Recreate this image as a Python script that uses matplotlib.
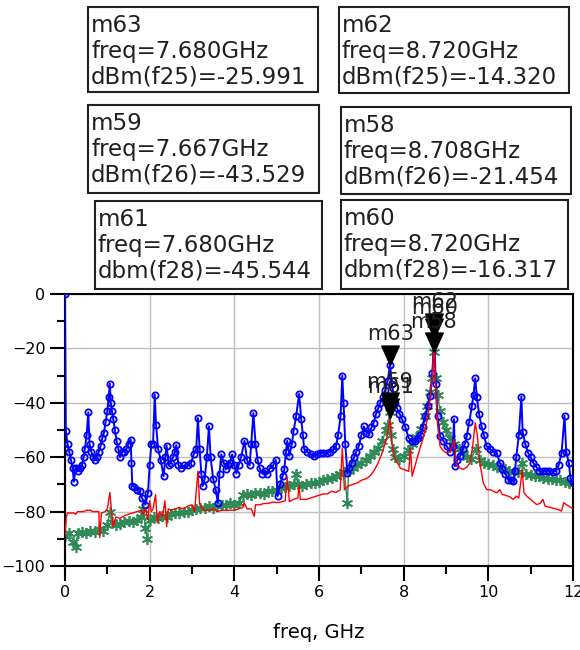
import matplotlib
matplotlib.use("Agg")
import matplotlib.pyplot as plt
from matplotlib.patches import Rectangle
from matplotlib.path import Path
from matplotlib.ticker import MultipleLocator

# dBm(f25) - blue, open circles
blue_freq = [0.00, 0.02, 0.06, 0.10, 0.14, 0.18, 0.21, 0.25, 0.30, 0.35, 0.40, 0.44, 0.47, 0.51, 0.55,
             0.58, 0.62, 0.67, 0.72, 0.76, 0.80, 0.84, 0.88, 0.92, 0.96, 1.00, 1.03, 1.06, 1.08, 1.11,
             1.14, 1.18, 1.22, 1.26, 1.30, 1.35, 1.40, 1.45, 1.50, 1.55, 1.57, 1.59, 1.64, 1.70, 1.76,
             1.82, 1.90, 1.96, 2.00, 2.04, 2.08, 2.12, 2.15, 2.20, 2.26, 2.33, 2.37, 2.40, 2.45, 2.50,
             2.55, 2.60, 2.63, 2.68, 2.75, 2.82, 2.90, 2.98, 3.04, 3.10, 3.14, 3.18, 3.22, 3.25, 3.30,
             3.35, 3.40, 3.44, 3.50, 3.56, 3.61, 3.65, 3.69, 3.75, 3.80, 3.85, 3.90, 3.95, 4.00, 4.05,
             4.10, 4.16, 4.24, 4.30, 4.36, 4.40, 4.45, 4.50, 4.55, 4.60, 4.66, 4.72, 4.78, 4.84, 4.92,
             4.98, 5.02, 5.08, 5.14, 5.18, 5.22, 5.25, 5.30, 5.36, 5.40, 5.46, 5.53, 5.58, 5.62, 5.65,
             5.72, 5.80, 5.88, 5.95, 6.02, 6.10, 6.18, 6.26, 6.34, 6.40, 6.45, 6.51, 6.55, 6.58, 6.62,
             6.67, 6.72, 6.77, 6.83, 6.88, 6.94, 7.00, 7.06, 7.12, 7.18, 7.24, 7.29, 7.35, 7.40, 7.45,
             7.51, 7.57, 7.62, 7.68, 7.72, 7.76, 7.80, 7.84, 7.90, 7.96, 8.04, 8.12, 8.20, 8.27, 8.33,
             8.39, 8.45, 8.51, 8.57, 8.63, 8.68, 8.72, 8.76, 8.80, 8.86, 8.94, 9.02, 9.10, 9.16, 9.19,
             9.21, 9.27, 9.33, 9.40, 9.45, 9.49, 9.55, 9.61, 9.65, 9.69, 9.73, 9.78, 9.84, 9.90, 9.96,
             10.04, 10.12, 10.20, 10.27, 10.33, 10.40, 10.47, 10.53, 10.59, 10.63, 10.66, 10.72, 10.78,
             10.81, 10.87, 10.94, 11.00, 11.06, 11.13, 11.20, 11.28, 11.36, 11.44, 11.52, 11.60, 11.66,
             11.73, 11.80, 11.84, 11.90, 11.94, 12.00]
blue_dbm = [0.0, -50.5, -55, -58, -61, -64, -69, -64, -65, -64, -63, -60, -57, -52, -43.5,
            -55, -58, -60, -61, -60, -58, -56, -53, -51, -47, -43, -38, -33, -40, -43,
            -46, -50, -54, -57, -60, -58, -58, -57, -55, -53.5, -62, -70.5, -71, -72, -72.5,
            -75, -77.4, -73, -63, -55, -55, -37, -48, -57, -61, -67, -60, -55.7, -63, -62,
            -60, -58, -55.5, -63, -64, -63, -63, -62, -59, -57, -45.6, -57, -66, -70.6, -68,
            -60, -48.6, -60, -68, -72, -76.7, -66, -59, -62, -64.5, -63, -62, -59, -63, -66,
            -63, -60, -54, -61, -63, -55, -43.8, -55, -61, -64, -66, -65, -66, -64, -63,
            -61, -74.3, -70, -67, -64.5, -58, -54, -59.5, -55, -50.3, -45, -36.7, -46, -52, -57,
            -58, -59, -59.5, -59, -58.5, -58.4, -58.5, -58, -57, -56, -52, -45, -30, -40, -55,
            -65.8, -64, -62, -60, -58, -56, -52, -48.7, -51, -51.4, -49, -47.4, -44, -42, -40,
            -38, -35.2, -32, -25.991, -33, -37, -40, -42, -44, -46, -49, -53, -54, -54, -53,
            -52, -49, -45, -41, -37.6, -29, -14.32, -33, -45, -52.3, -54, -56, -58, -56, -46,
            -63.3, -61, -59.7, -57, -55, -52.3, -47, -41.3, -37, -31, -38, -44, -48.7, -52, -56,
            -57, -58, -58.4, -62, -64.5, -66, -68.2, -68.5, -68.8, -65, -60, -52, -37.7,
            -50.6, -55, -58.4, -60, -62, -63.5, -65, -65, -65.2, -65, -65.3, -65, -63,
            -58.4, -44.8, -58, -62, -67.6, -69]

# dBm(f26) - green, asterisks
green_freq = [0.0, 0.1, 0.2, 0.25, 0.3, 0.4, 0.5, 0.6, 0.7, 0.8, 0.9, 1.0, 1.06, 1.1, 1.2, 1.3, 1.4,
              1.5, 1.6, 1.7, 1.8, 1.85, 1.9, 1.94, 2.0, 2.1, 2.2, 2.3, 2.4, 2.5, 2.6, 2.7, 2.8, 2.9,
              3.0, 3.1, 3.2, 3.3, 3.4, 3.5, 3.6, 3.7, 3.8, 3.9, 4.0, 4.1, 4.2, 4.3, 4.4, 4.5, 4.6,
              4.7, 4.8, 4.9, 5.0, 5.1, 5.2, 5.3, 5.4, 5.45, 5.5, 5.6, 5.7, 5.8, 5.9, 6.0, 6.1, 6.2,
              6.3, 6.4, 6.5, 6.6, 6.67, 6.7, 6.8, 6.9, 7.0, 7.1, 7.2, 7.3, 7.4, 7.5, 7.58, 7.62,
              7.667, 7.7, 7.75, 7.8, 7.9, 8.0, 8.1, 8.2, 8.3, 8.4, 8.5, 8.56, 8.62, 8.66, 8.708,
              8.76, 8.8, 8.86, 8.93, 9.0, 9.1, 9.2, 9.3, 9.4, 9.5, 9.6, 9.7, 9.8, 9.9, 10.0, 10.1,
              10.2, 10.3, 10.4, 10.5, 10.6, 10.7, 10.8, 10.9, 11.0, 11.1, 11.2, 11.3, 11.4, 11.5,
              11.6, 11.7, 11.8, 11.9, 12.0]
green_dbm = [-89, -88, -91, -93, -88, -87.5, -88, -87, -87.5, -86.5, -87, -85, -80, -84, -85, -84.5,
             -84, -83.5, -84, -83, -82, -79, -86, -90, -83, -82, -82.5, -81.5, -82, -81, -80.5,
             -80.5, -80, -80, -79.5, -79, -78.5, -78.5, -78, -78.5, -78, -77.5, -77.5, -77, -77.5,
             -77, -74, -73.5, -74, -73, -73, -73.5, -72.5, -72.5, -72, -71.5, -71, -70.5, -70,
             -66, -70, -70.5, -70, -69.5, -69.5, -69, -68.5, -68, -67.5, -67, -66, -65.5, -77,
             -65, -64, -63, -62, -61, -59.5, -58, -56.5, -54, -50, -48, -43.529, -52, -57, -60,
             -60.5, -59.5, -57.5, -55, -52.5, -49.5, -45, -41, -36, -31, -21.454, -31, -37, -43,
             -47, -50, -53, -55, -57, -58.5, -60, -60.5, -57, -61, -62, -62.5, -63, -63.5, -64,
             -64.5, -65, -65.5, -65.5, -62, -66, -66.5, -67, -67, -67.5, -68, -68, -68.5, -68.5,
             -69, -69.5, -70]

# dbm(f28) - red line
red_freq = [0.0, 0.03, 0.06, 0.2, 0.25, 0.3, 0.45, 0.5, 0.6, 0.65, 0.75, 0.8, 0.82, 0.86, 0.95, 1.0,
            1.06, 1.1, 1.14, 1.2, 1.3, 1.4, 1.5, 1.6, 1.7, 1.8, 1.85, 1.9, 1.96, 2.0, 2.04, 2.08,
            2.14, 2.18, 2.24, 2.3, 2.36, 2.4, 2.44, 2.5, 2.6, 2.7, 2.8, 2.9, 3.0, 3.06, 3.14, 3.18,
            3.24, 3.3, 3.4, 3.5, 3.6, 3.7, 3.8, 3.9, 4.0, 4.1, 4.2, 4.23, 4.3, 4.4, 4.47, 4.5, 4.6,
            4.7, 4.8, 4.9, 5.0, 5.1, 5.2, 5.25, 5.3, 5.4, 5.5, 5.53, 5.56, 5.7, 5.8, 5.9, 6.0, 6.1,
            6.2, 6.3, 6.4, 6.5, 6.55, 6.6, 6.7, 6.8, 6.9, 7.0, 7.1, 7.2, 7.3, 7.4, 7.5, 7.6, 7.68,
            7.72, 7.78, 7.85, 7.92, 8.0, 8.08, 8.12, 8.16, 8.2, 8.27, 8.33, 8.4, 8.46, 8.51, 8.57,
            8.63, 8.68, 8.72, 8.76, 8.8, 8.86, 8.93, 9.0, 9.1, 9.19, 9.25, 9.33, 9.41, 9.5, 9.57,
            9.63, 9.69, 9.74, 9.8, 9.88, 9.96, 10.05, 10.12, 10.2, 10.27, 10.33, 10.4, 10.5, 10.59,
            10.66, 10.72, 10.8, 10.84, 10.92, 11.0, 11.07, 11.14, 11.22, 11.29, 11.34, 11.42, 11.5,
            11.6, 11.66, 11.73, 11.78, 11.84, 11.9, 11.96, 12.0]
red_dbm = [-89, -82, -80.5, -80.5, -81, -80, -80, -79.5, -79.5, -80, -80, -80, -89.5, -80.5, -80,
           -79, -73, -80, -85.5, -82, -82.5, -81.5, -81, -80.5, -80, -79.5, -81, -79, -83, -76,
           -80, -79, -73.7, -84, -80, -82, -76, -85.5, -79, -79.5, -79, -78.5, -79, -78, -77.5,
           -80, -65.2, -77, -79, -79.5, -79.5, -79, -80, -79.5, -79.5, -79.5, -79.5, -79, -78.5,
           -76.7, -79, -79, -81.7, -77.5, -77.5, -77, -77, -76.5, -76.7, -76.5, -76, -67.6, -76.3,
           -75.5, -75, -70.5, -75.5, -75.5, -75, -74.5, -74, -73.5, -73.5, -72.5, -73, -72, -56.6,
           -72, -70.5, -70, -69.5, -68.5, -68, -67, -65, -62, -58, -53, -45.544, -55, -60, -62,
           -64, -64.5, -65, -65.2, -56.6, -67, -63, -59.7, -56, -53, -50, -45, -37.6, -30, -16.317,
           -36, -48, -56, -57.5, -58.4, -58, -53.5, -63.3, -64, -64.5, -63.5, -62, -56, -47.4,
           -52, -62, -69.4, -71.9, -72, -72.5, -73.1, -71.9, -73.7, -74, -74.5, -75.5, -74.3,
           -75, -64.5, -73, -74.5, -75.5, -76.5, -77.4, -77, -75.5, -78, -78.3, -78.6, -79,
           -79.3, -79.8, -76.7, -77.4, -78, -78.6, -79]

# markers on the traces
marker_names = ["m63", "m62", "m59", "m58", "m61", "m60"]
marker_freq = [7.680, 8.720, 7.667, 8.708, 7.680, 8.720]
marker_dbm = [-25.991, -14.320, -43.529, -21.454, -45.544, -16.317]
marker_expr = ["dBm(f25)", "dBm(f25)", "dBm(f26)", "dBm(f26)", "dbm(f28)", "dbm(f28)"]

# readout boxes, in pixels from top-left: x0, y0, x1, y1
box_px = [(88, 7, 318, 92), (339, 7, 569, 93), (88, 105, 319, 193),
          (341, 107, 571, 194), (95, 201, 322, 289), (341, 200, 568, 289)]

W, H = 580, 650
fig = plt.figure(figsize=(W / 100, H / 100), dpi=100)
ax = fig.add_axes([65 / W, 1 - 566 / H, 508 / W, 272 / H])

ax.plot(green_freq, green_dbm, color="#2e8b57", lw=1.0, marker=(6, 2, 0), ms=8,
        mew=1.2, zorder=2)
ax.plot(blue_freq, blue_dbm, color="#0000ff", lw=1.4, marker="o", ms=4.5,
        mfc="none", mew=1.3, zorder=3)
ax.plot(red_freq, red_dbm, color="#ff0000", lw=1.0, zorder=4)

# downward triangle with the tip at the data point
tri = Path([(-0.45, 1.0), (0.45, 1.0), (0.0, 0.0), (-0.45, 1.0)],
           [Path.MOVETO, Path.LINETO, Path.LINETO, Path.CLOSEPOLY])
for name, f, d in zip(marker_names, marker_freq, marker_dbm):
    ax.plot([f], [d], marker=tri, ms=28, color="black", ls="none", zorder=6, clip_on=False)
    ax.annotate(name, (f, d), xytext=(0, 15), textcoords="offset points",
                ha="center", va="bottom", fontsize=15, color="#202020",
                zorder=7, annotation_clip=False)

ax.set_xlim(0, 12)
ax.set_ylim(-100, 0)
ax.xaxis.set_major_locator(MultipleLocator(2))
ax.xaxis.set_minor_locator(MultipleLocator(1))
ax.yaxis.set_major_locator(MultipleLocator(20))
ax.yaxis.set_minor_locator(MultipleLocator(10))
ax.tick_params(which="major", direction="out", length=11, width=1.5, labelsize=11.5, pad=3)
ax.tick_params(which="minor", direction="out", length=5.5, width=1.5)
ax.grid(True, which="major", color="#c0c0c0", lw=1)
ax.set_axisbelow(True)
for s in ax.spines.values():
    s.set_linewidth(1.5)

fig.text(319 / W, 1 - 632 / H, "freq, GHz", ha="center", va="center", fontsize=14)

for (x0, y0, x1, y1), name, f, d, expr in zip(box_px, marker_names, marker_freq,
                                              marker_dbm, marker_expr):
    fig.add_artist(Rectangle((x0 / W, 1 - y1 / H), (x1 - x0) / W, (y1 - y0) / H,
                             transform=fig.transFigure, fill=False, lw=1.5, ec="#202020"))
    lines = [name, "freq=%.3fGHz" % f, "%s=%.3f" % (expr, d)]
    for i, line in enumerate(lines):
        fig.text((x0 + 3) / W, 1 - (y0 + 25 + 26 * i) / H, line, ha="left", va="baseline",
                 fontsize=16.5, color="#202020")

fig.savefig("out.png", dpi=100)
